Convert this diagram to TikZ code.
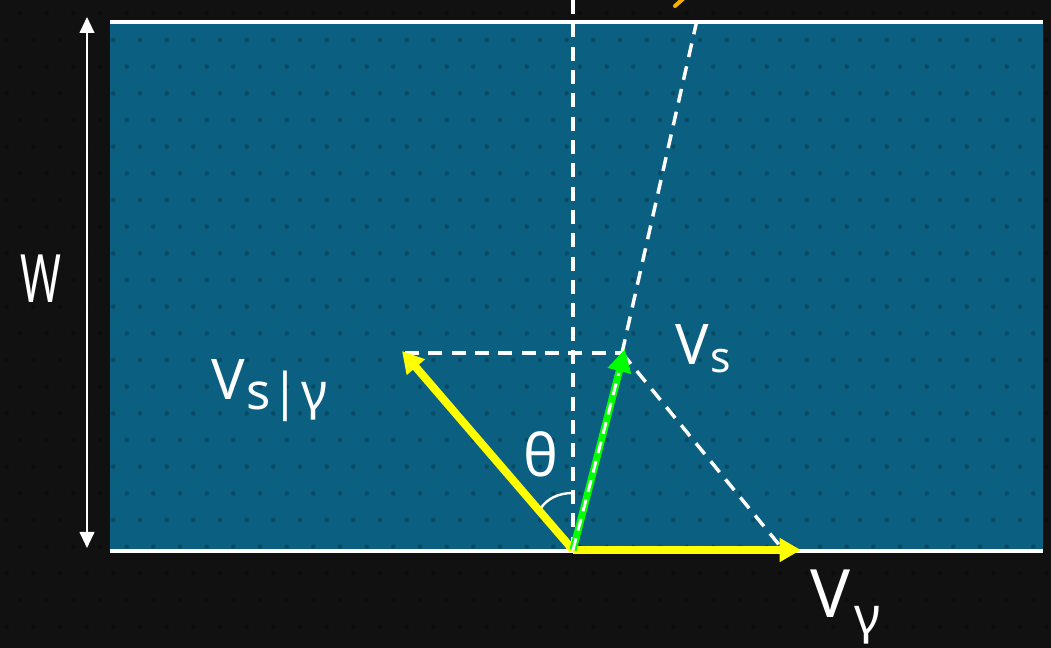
\documentclass[tikz,border=0pt]{standalone}
\usepackage{fontspec}
\setmainfont{Noto Sans}
\usetikzlibrary{arrows.meta,calc}
\definecolor{bg}{HTML}{111111}
\definecolor{river}{HTML}{0B5F80}
\definecolor{vyel}{HTML}{FFFF00}
\definecolor{vgreen}{HTML}{00FF00}
\definecolor{lblorange}{HTML}{F5B000}
\tikzset{
  guide/.style={white, line width=2.6pt, dash pattern=on 10.5pt off 7pt},
  bank/.style={white, line width=3pt},
  yvec/.style={vyel, line width=6pt, -{Triangle[length=16pt,width=17pt]}},
  gvec/.style={vgreen, line width=5.4pt, -{Triangle[length=17pt,width=17pt]}},
  hand/.style={white, inner sep=0pt},
  dimline/.style={white, line width=1.5pt, {Triangle[length=12pt,width=11pt]}-{Triangle[length=12pt,width=11pt]}},
}
\begin{document}
\begin{tikzpicture}[x=0.75pt,y=-0.75pt]
\useasboundingbox (0,0) rectangle (1051,648);
\fill[bg] (0,0) rectangle (1051,648);
\fill[river] (110,22) rectangle (1043,551);
% dot grid
\foreach \j in {0,...,24}{
  \foreach \i in {0,...,39}{
    \pgfmathsetmacro{\dx}{20+26.667*\i-13.333*mod(\j,2)}
    \pgfmathsetmacro{\dy}{13.333+26.667*\j}
    \fill[black, opacity=0.22] (\dx,\dy) circle (2.2);
  }
}
% coordinates
\coordinate (O) at (573,550);
\coordinate (S) at (625,349);
\coordinate (Sb) at (622,353);
\coordinate (SR) at (402,351);
\coordinate (SRb) at (405,353);
\coordinate (R) at (801,550);
\coordinate (Top) at (573,0);
\coordinate (Far) at (697,20);
\coordinate (Diag) at (785,552);
\coordinate (W1) at (87,17);
\coordinate (W2) at (87,548);
% banks
\draw[bank] (110,22) -- (1043,22);
\draw[bank] (110,551) -- (1043,551);
% width arrow
\draw[dimline] (W1) -- (W2);
% guide lines
\draw[guide] (Top) -- (O);
\draw[guide] (SRb) -- (Sb);
\draw[guide] (Sb) -- (Far);
\draw[guide] (Sb) -- (Diag);
% vectors
\draw[yvec] (O) -- (SR);
\draw[yvec] (O) -- (R);
\draw[gvec] (O) -- (S);
\draw[white, line width=2.2pt, dash pattern=on 9pt off 6pt] (O) -- ($(O)!0.88!(S)$);
% angle arc
\draw[white, line width=1.8pt] (573,493) .. controls (558,493) and (547,499) .. (541,508);
% cut-off label stroke at top
\draw[lblorange, line width=3pt, line cap=round] (675,6) -- (684,-2);
% labels
\node[hand, anchor=center] (wl) at (41,279) {\fontsize{50}{50}\selectfont\scalebox{0.66}[1]{W}};
\node[hand, anchor=base west] (vs) at (675,365) {\fontsize{42}{42}\selectfont V\kern1pt\raisebox{-6pt}{\fontsize{32}{32}\selectfont s}};
\node[hand, anchor=base west] (vsr) at (211,400) {\fontsize{42}{42}\selectfont V\kern1pt\raisebox{-7pt}{\fontsize{38}{38}\selectfont s\kern1pt|\kern1ptγ}};
\node[hand, anchor=center] (th) at (541,454) {\fontsize{44}{44}\selectfont θ};
\node[hand, anchor=base west] (vr) at (810,618) {\fontsize{50}{50}\selectfont V\kern3pt\raisebox{-12pt}{\fontsize{38}{38}\selectfont γ}};
\end{tikzpicture}
\end{document}
